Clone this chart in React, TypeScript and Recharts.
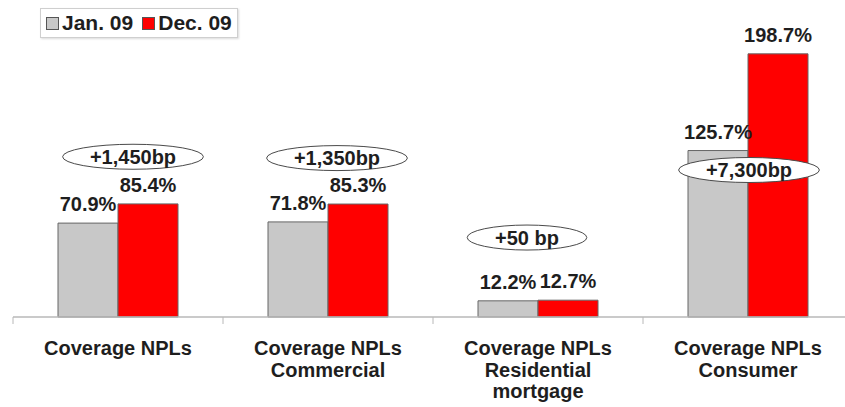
import React from 'react';
import { BarChart, Bar, XAxis, YAxis, LabelList, ReferenceDot } from 'recharts';

// Coverage ratios by portfolio, Jan. 09 vs Dec. 09 (%)
const categories = [
  'Coverage NPLs',
  'Coverage NPLs\nCommercial',
  'Coverage NPLs\nResidential\nmortgage',
  'Coverage NPLs\nConsumer',
];
const jan09 = [70.9, 71.8, 12.2, 125.7];
const dec09 = [85.4, 85.3, 12.7, 198.7];
// Change in basis points, shown in the ovals
const bpChange = ['+1,450bp', '+1,350bp', '+50 bp', '+7,300bp'];
// Level (in % units) at which each oval sits
const bpLevel = [121, 120, 60, 111];

const seriesNames = ['Jan. 09', 'Dec. 09'];

const data = categories.map((c, i) => ({ name: c, jan: jan09[i], dec: dec09[i] }));

const FONT = "Arial, 'Liberation Sans', Helvetica, sans-serif";
const TEXT = '#1e1e1e';
const GRAY = '#c8c8c8';
const RED = '#ff0000';

const CHART_W = 860;
const CHART_H = 407;
const MARGIN = { top: 23, right: 7, bottom: 0, left: 13 };
const BAND = (CHART_W - MARGIN.left - MARGIN.right) / categories.length;

// horizontal nudge of each oval relative to its category centre
const ovalShift = [15, 9, -11, 1];

const fmt = (v: number) => `${v.toFixed(1)}%`;

const CategoryTick = (props: any) => {
  const { x, y, payload } = props;
  const lines = String(payload.value).split('\n');
  const left = x - BAND / 2;
  return (
    <g>
      <line x1={left} x2={left} y1={y} y2={y + 7} stroke="#b8b8b8" strokeWidth={1} />
      <text
        x={x}
        y={y + 38}
        textAnchor="middle"
        fontFamily={FONT}
        fontWeight="bold"
        fontSize={20}
        fill={TEXT}
      >
        {lines.map((l, i) => (
          <tspan key={i} x={x} dy={i === 0 ? 0 : 21.5}>
            {l}
          </tspan>
        ))}
      </text>
    </g>
  );
};

const makeOval = (label: string, shift: number) => (props: any) => {
  const { cx, cy } = props;
  const fs = 20;
  const approxW = label.length * fs * 0.53;
  const rx = approxW / 2 + 28;
  const x = cx + shift;
  return (
    <g>
      <ellipse cx={x} cy={cy} rx={rx} ry={12.5} fill="#ffffff" stroke="#4a4a4a" strokeWidth={1} />
      <text
        x={x}
        y={cy + 7}
        textAnchor="middle"
        fontFamily={FONT}
        fontWeight="bold"
        fontSize={fs}
        fill={TEXT}
      >
        {label}
      </text>
    </g>
  );
};

const LegendBox = () => (
  <div
    style={{
      position: 'absolute',
      left: 40,
      top: 8,
      width: 198,
      height: 30,
      boxSizing: 'border-box',
      border: '1px solid #cfcfcf',
      boxShadow: '1px 1px 2px rgba(0,0,0,0.15)',
      background: '#fff',
      display: 'flex',
      alignItems: 'center',
      fontFamily: FONT,
      fontWeight: 'bold',
      fontSize: 21,
      color: TEXT,
      paddingLeft: 5,
    }}
  >
    {seriesNames.map((n, i) => (
      <span key={n} style={{ display: 'flex', alignItems: 'center', marginRight: i === 0 ? 9 : 0 }}>
        <span
          style={{
            display: 'inline-block',
            width: 11,
            height: 11,
            background: i === 0 ? GRAY : RED,
            border: '1px solid #555',
            marginRight: 3,
          }}
        />
        <span>{n}</span>
      </span>
    ))}
  </div>
);

export default function App() {
  return (
    <div
      style={{
        position: 'absolute',
        left: 0,
        top: 0,
        width: 845,
        height: 407,
        overflow: 'hidden',
        background: '#fff',
      }}
    >
      <BarChart
        width={CHART_W}
        height={CHART_H}
        data={data}
        margin={MARGIN}
        barSize={60}
        barGap={0}
      >
        <XAxis
          dataKey="name"
          interval={0}
          height={90}
          tickSize={0}
          tickMargin={0}
          tickLine={false}
          axisLine={{ stroke: '#b8b8b8', strokeWidth: 1.5 }}
          tick={<CategoryTick />}
        />
        <YAxis hide domain={[0, 222]} />
        <Bar dataKey="jan" fill={GRAY} stroke="#666" strokeWidth={1} isAnimationActive={false}>
          <LabelList
            dataKey="jan"
            position="top"
            offset={12}
            formatter={fmt}
            style={{ fontFamily: FONT, fontWeight: 'bold', fontSize: 20, fill: TEXT }}
          />
        </Bar>
        <Bar dataKey="dec" fill={RED} stroke="#666" strokeWidth={1} isAnimationActive={false}>
          <LabelList
            dataKey="dec"
            position="top"
            offset={12}
            formatter={fmt}
            style={{ fontFamily: FONT, fontWeight: 'bold', fontSize: 20, fill: TEXT }}
          />
        </Bar>
        {categories.map((c, i) => (
          <ReferenceDot
            key={c}
            x={c}
            y={bpLevel[i]}
            ifOverflow="visible"
            shape={makeOval(bpChange[i], ovalShift[i])}
          />
        ))}
      </BarChart>
      <LegendBox />
    </div>
  );
}
